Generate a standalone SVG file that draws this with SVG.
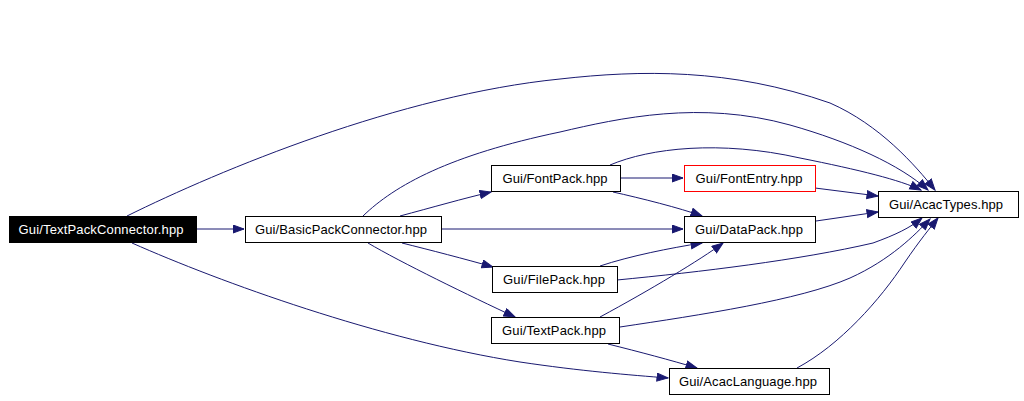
<svg xmlns="http://www.w3.org/2000/svg" width="1024" height="401" viewBox="0 0 1024 401">
<style>
.n rect{fill:#fff;stroke:#000;stroke-width:1}
.n text{font-family:"Liberation Sans",Arial,sans-serif;font-size:13px;fill:#000;text-anchor:middle}
#n0 rect{fill:#000}
#n0 text{fill:#fff}
#n4 rect{stroke:#f00}
.e path{fill:none;stroke:#191970;stroke-width:1;marker-end:url(#ah)}
</style>
<defs>
<marker id="ah" markerUnits="userSpaceOnUse" markerWidth="13" markerHeight="10" refX="11.5" refY="4.5" orient="auto" viewBox="0 0 13 10">
<path d="M0.5,0.5 L11.5,4.5 L0.5,8.5 z" fill="#191970" stroke="#191970" stroke-width="1"/>
</marker>
</defs>
<rect width="1024" height="401" fill="#fff"/>
<g id="edges" class="e">
<path d="M196,229 L244,229"/>
<path d="M127,216 C220,170 400,95 560,79 C640,70 730,68 830,103 C880,125 915,165 935,190"/>
<path d="M132,243 C220,282 380,340 520,362 C580,371 630,375 668,378"/>
<path d="M400,216 C430,208 465,198 491,192"/>
<path d="M442,229 L683,229"/>
<path d="M402,243 C430,250 465,259 493,267"/>
<path d="M368,243 C400,262 470,296 515,317"/>
<path d="M363,216 C395,185 450,155 560,132 C620,118 700,100 790,125 C850,142 900,165 928,190"/>
<path d="M620,178 L683,178"/>
<path d="M613,192 C640,198 680,208 702,216"/>
<path d="M610,165 C650,148 720,140 800,158 C860,170 900,180 921,190"/>
<path d="M815,188 L878,196"/>
<path d="M816,221 L878,212"/>
<path d="M600,266 C630,256 670,248 702,243"/>
<path d="M617,280 C700,272 800,260 873,243 C895,235 910,228 922,218"/>
<path d="M600,317 C650,290 700,260 723,243"/>
<path d="M620,327 C700,315 800,300 850,278 C890,260 915,235 930,219"/>
<path d="M608,344 C640,352 670,360 697,368"/>
<path d="M797,368 C840,345 880,300 905,262 C920,240 930,228 938,218"/>
</g>
<g id="n0" class="n"><rect x="9.5" y="216.5" width="187" height="26"/><text x="101" y="234" textLength="165">Gui/TextPackConnector.hpp</text></g>
<g id="n1" class="n"><rect x="245.5" y="216.5" width="196" height="26"/><text x="341" y="234" textLength="172">Gui/BasicPackConnector.hpp</text></g>
<g id="n2" class="n"><rect x="491.5" y="165.5" width="129" height="26"/><text x="555" y="183" textLength="105">Gui/FontPack.hpp</text></g>
<g id="n4" class="n"><rect x="684.5" y="165.5" width="131" height="26"/><text x="749" y="183" textLength="107">Gui/FontEntry.hpp</text></g>
<g id="n3" class="n"><rect x="684.5" y="216.5" width="131" height="26"/><text x="749" y="234" textLength="108">Gui/DataPack.hpp</text></g>
<g id="n5" class="n"><rect x="492.5" y="266.5" width="125" height="26"/><text x="554" y="284" textLength="102">Gui/FilePack.hpp</text></g>
<g id="n6" class="n"><rect x="491.5" y="317.5" width="128" height="26"/><text x="554" y="335" textLength="104">Gui/TextPack.hpp</text></g>
<g id="n7" class="n"><rect x="669.5" y="368.5" width="160" height="26"/><text x="748" y="386" textLength="138">Gui/AcacLanguage.hpp</text></g>
<g id="n8" class="n"><rect x="878.5" y="191.5" width="140" height="26"/><text x="946" y="209" textLength="114">Gui/AcacTypes.hpp</text></g>
</svg>
